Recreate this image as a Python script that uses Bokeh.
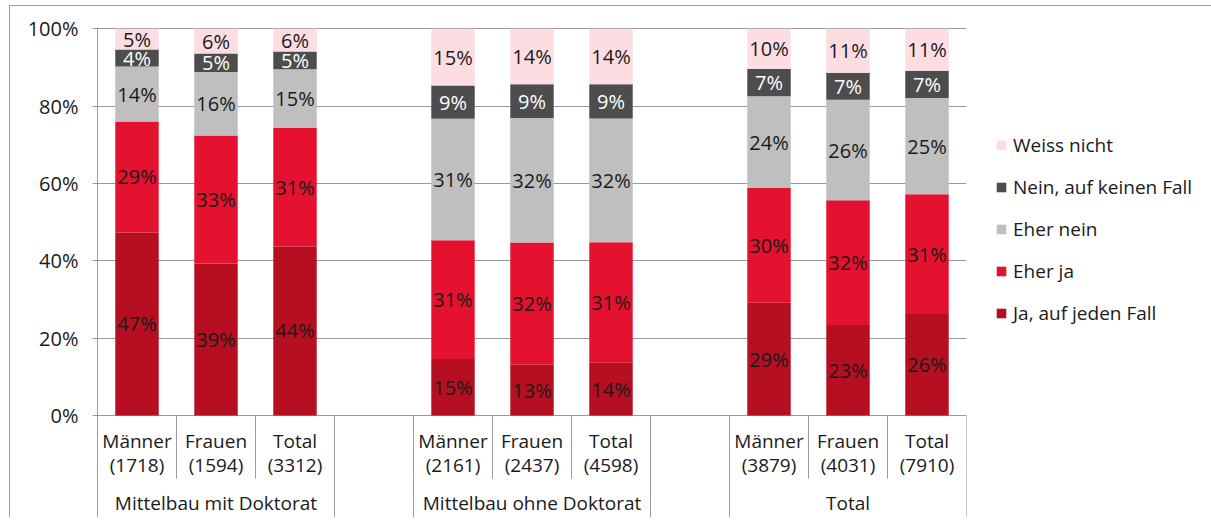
from bokeh.plotting import figure
from bokeh.models import Range1d, FixedTicker, PrintfTickFormatter, ColumnDataSource, Legend, LegendItem, InlineStyleSheet
from bokeh.core.properties import value
from bokeh.embed import file_html
from bokeh.resources import INLINE

# ---------------- data ----------------
groups = ["Mittelbau mit Doktorat", "Mittelbau ohne Doktorat", "Total"]
sub_labels = ["Männer", "Frauen", "Total"]
counts = ["(1718)", "(1594)", "(3312)",
          "(2161)", "(2437)", "(4598)",
          "(3879)", "(4031)", "(7910)"]
series = ["Ja, auf jeden Fall", "Eher ja", "Eher nein", "Nein, auf keinen Fall", "Weiss nicht"]
colors = ["#B50F21", "#E4112F", "#BFBFBF", "#4D4D4D", "#FDDDE2"]
label_colors = ["#1a1a1a", "#1a1a1a", "#1a1a1a", "#ffffff", "#1a1a1a"]

ja        = [47.3, 39.3, 43.7, 14.6, 13.1, 13.6, 29.1, 23.4, 26.2]
eher_ja   = [28.7, 33.1, 30.6, 30.7, 31.6, 31.2, 29.7, 32.2, 31.0]
eher_nein = [14.2, 16.4, 15.2, 31.4, 32.2, 32.0, 23.7, 26.0, 24.9]
nein      = [4.4, 4.8, 4.6, 8.6, 8.7, 8.8, 7.1, 7.0, 7.0]
weiss     = [5.4, 6.4, 5.9, 14.7, 14.4, 14.4, 10.4, 11.4, 10.9]
values = [ja, eher_ja, eher_nein, nein, weiss]
y_ticks = [0, 20, 40, 60, 80, 100]

FONT = value("Open Sans")
GRID = "#9a9a9a"
TXT = "#1a1a1a"

# slot layout: 3 bars per group, one empty slot between groups
n_slots = len(groups) * 4 - 1
xs = [g * 4 + i + 0.5 for g in range(len(groups)) for i in range(3)]

data = {"x": xs}
for name, vals in zip(series, values):
    data[name] = vals
src = ColumnDataSource(data)

Y_BOTTOM = -26.4
css = InlineStyleSheet(css=":host { margin: 5px 0 0 9px; border-top: 1px solid #9a9a9a; border-left: 1px solid #9a9a9a; }")
p = figure(frame_width=869, frame_height=490,
           x_range=Range1d(0, n_slots), y_range=Range1d(Y_BOTTOM, 100.3),
           output_backend="svg", toolbar_location=None, x_axis_location=None,
           min_border_left=87, min_border_top=21, min_border_bottom=0, min_border_right=236,
           stylesheets=[css])
p.outline_line_color = None
p.background_fill_color = "white"
p.xgrid.visible = False
p.ygrid.ticker = FixedTicker(ticks=y_ticks)
p.ygrid.grid_line_color = GRID
p.ygrid.grid_line_width = 1

yax = p.yaxis[0]
yax.ticker = FixedTicker(ticks=y_ticks)
yax.formatter = PrintfTickFormatter(format="%d%%")
yax.axis_line_color = GRID
yax.major_tick_line_color = GRID
yax.major_tick_out = 5
yax.major_tick_in = 0
yax.minor_tick_line_color = None
yax.major_label_text_font = "Open Sans"
yax.major_label_text_font_size = "20px"
yax.major_label_text_color = TXT
yax.major_label_standoff = 14

renderers = p.vbar_stack(series, x="x", width=0.55, source=src, color=colors, line_color=None)

# segment labels
lx, ly, lt, lc = [], [], [], []
for j in range(len(xs)):
    bottom = 0.0
    for k, vals in enumerate(values):
        v = vals[j]
        lx.append(xs[j]); ly.append(bottom + v / 2); lt.append(f"{v:.0f}%"); lc.append(label_colors[k])
        bottom += v
p.text(x=lx, y=ly, text=lt, text_color=lc, text_align="center", text_baseline="middle",
       text_font=FONT, text_font_size="20px")

# category labels
p.text(x=xs, y=[-6.7] * len(xs), text=sub_labels * len(groups), text_color=TXT,
       text_align="center", text_baseline="middle", text_font=FONT, text_font_size="19px")
p.text(x=xs, y=[-12.9] * len(xs), text=counts, text_color=TXT,
       text_align="center", text_baseline="middle", text_font=FONT, text_font_size="19px")
p.text(x=[g * 4 + 1.5 for g in range(len(groups))], y=[-22.7] * len(groups), text=groups,
       text_color=TXT, text_align="center", text_baseline="middle", text_font=FONT,
       text_font_size="19px")

# separators
long_b = [b for g in range(len(groups)) for b in (g * 4, g * 4 + 3)]
short_b = [b for g in range(len(groups)) for b in (g * 4 + 1, g * 4 + 2)]
p.segment(x0=long_b, x1=long_b, y0=[0] * len(long_b), y1=[Y_BOTTOM] * len(long_b),
          line_color=GRID, line_width=1)
p.segment(x0=short_b, x1=short_b, y0=[0] * len(short_b), y1=[-16.3] * len(short_b),
          line_color=GRID, line_width=1)

# legend
items = [LegendItem(label=series[k], renderers=[renderers[k]]) for k in reversed(range(len(series)))]
legend = Legend(items=items, location=(29, 191), padding=0, margin=0,
                border_line_color=None, background_fill_alpha=0,
                glyph_width=12, glyph_height=12, label_standoff=6,
                label_height=24, spacing=16,
                label_text_font="Open Sans", label_text_font_size="19px", label_text_color=TXT)
p.add_layout(legend, "right")

open("out.html", "w").write(file_html(p, INLINE))
